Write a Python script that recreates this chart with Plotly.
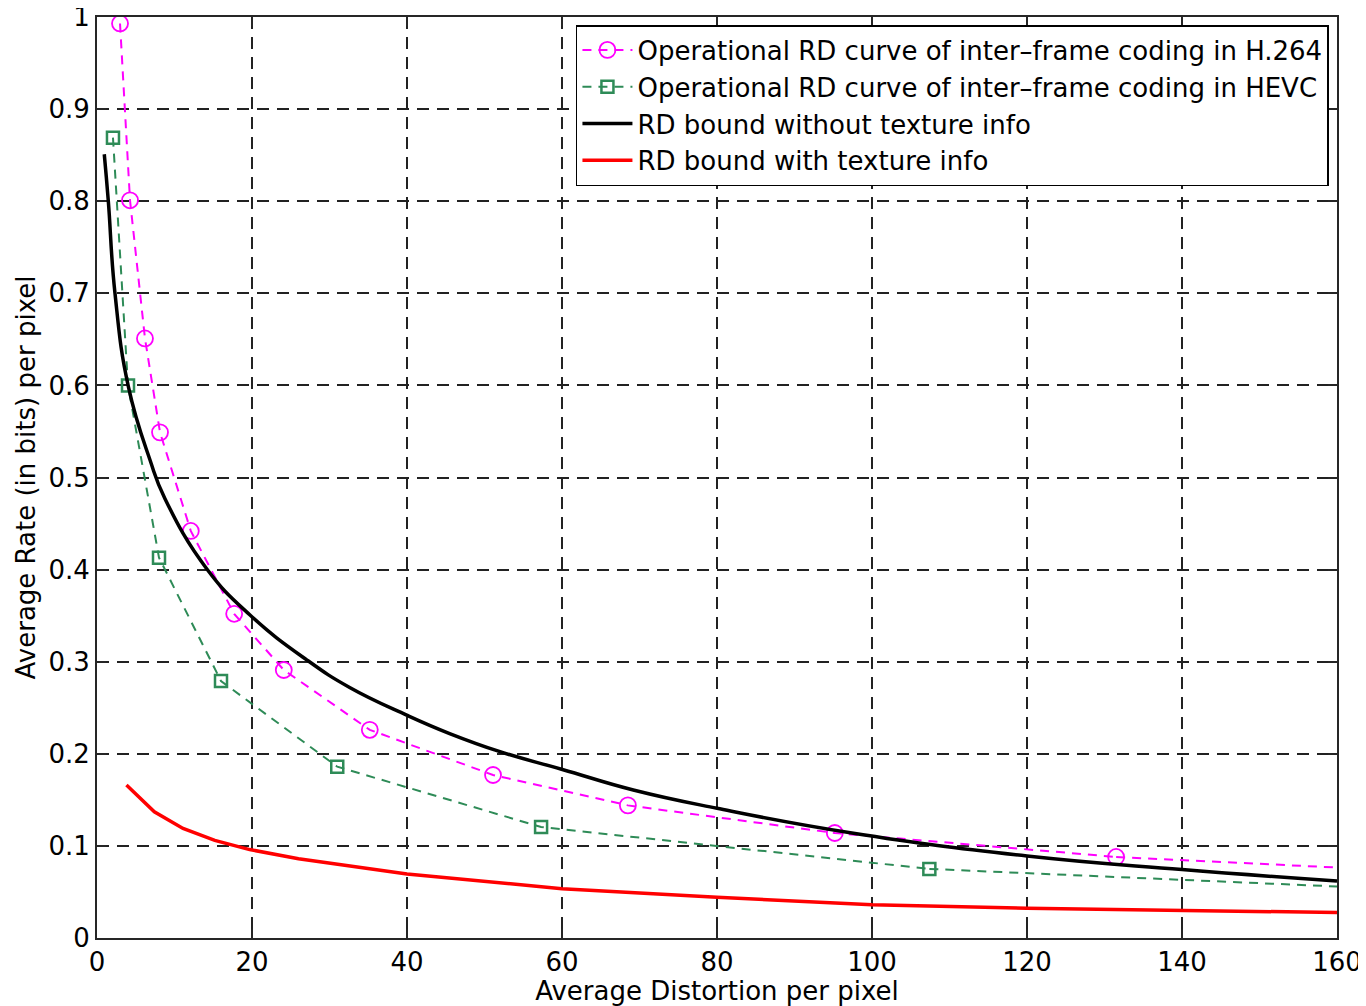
import plotly.graph_objects as go

# H.264 operational RD points
h264_x = [2.97, 4.26, 6.19, 8.13, 12.1, 17.7, 24.1, 35.2, 51.1, 68.5, 95.2, 131.5]
h264_y = [0.993, 0.801, 0.651, 0.549, 0.442, 0.352, 0.291, 0.226, 0.177, 0.144, 0.114, 0.088]
h264_tail_x = [131.5, 160]
h264_tail_y = [0.088, 0.0765]

# HEVC operational RD points
hevc_x = [2.06, 4.0, 8.0, 16.0, 31.0, 57.3, 107.4]
hevc_y = [0.869, 0.600, 0.413, 0.279, 0.186, 0.1205, 0.075]
hevc_tail_x = [107.4, 160]
hevc_tail_y = [0.075, 0.0559]

# RD bound without texture info
bound_x = [0.94, 1.46, 2.32, 4.04, 6.84, 8.77, 14.15, 19.74, 27.06, 32.6, 39.96, 45.5,
           52.0, 60.04, 69.2, 80, 97.2, 120, 140, 160]
bound_y = [0.851, 0.800, 0.700, 0.599, 0.519, 0.477, 0.401, 0.3507, 0.302, 0.272, 0.242, 0.222,
           0.2023, 0.183, 0.1607, 0.1408, 0.1143, 0.089, 0.0743, 0.0618]

# RD bound with texture info
tex_x = [3.8, 7.4, 11.1, 15.2, 19.7, 26.0, 40, 60, 80, 100, 120, 140, 160]
tex_y = [0.166, 0.137, 0.119, 0.106, 0.096, 0.086, 0.0695, 0.0535, 0.0442, 0.036, 0.0324, 0.030, 0.0276]

x_ticks = [0, 20, 40, 60, 80, 100, 120, 140, 160]
y_ticks = [0, 0.1, 0.2, 0.3, 0.4, 0.5, 0.6, 0.7, 0.8, 0.9, 1]
y_ticktext = ["0", "0.1", "0.2", "0.3", "0.4", "0.5", "0.6", "0.7", "0.8", "0.9", "1"]

FONT = "DejaVu Sans, Liberation Sans, Arial, sans-serif"
MAGENTA = "#ff00ff"
GREEN = "#2e8b57"

fig = go.Figure()

fig.add_trace(go.Scatter(
    x=h264_x, y=h264_y, mode="lines+markers",
    name="Operational RD curve of inter\u2013frame coding in H.264",
    line=dict(color=MAGENTA, width=2, dash="9px,7px"),
    marker=dict(symbol="circle-open", size=16, color=MAGENTA, line=dict(width=1.8, color=MAGENTA)),
))
fig.add_trace(go.Scatter(
    x=h264_tail_x, y=h264_tail_y, mode="lines", showlegend=False,
    line=dict(color=MAGENTA, width=2, dash="9px,7px"),
))
fig.add_trace(go.Scatter(
    x=hevc_x, y=hevc_y, mode="lines+markers",
    name="Operational RD curve of inter\u2013frame coding in HEVC",
    line=dict(color=GREEN, width=2, dash="9px,7px"),
    marker=dict(symbol="square-open", size=12, color=GREEN, line=dict(width=2.5, color=GREEN)),
))
fig.add_trace(go.Scatter(
    x=hevc_tail_x, y=hevc_tail_y, mode="lines", showlegend=False,
    line=dict(color=GREEN, width=2, dash="9px,7px"),
))
fig.add_trace(go.Scatter(
    x=bound_x, y=bound_y, mode="lines", line_shape="spline",
    name="RD bound without texture info",
    line=dict(color="black", width=3.5, smoothing=1.3),
))
fig.add_trace(go.Scatter(
    x=tex_x, y=tex_y, mode="lines",
    name="RD bound with texture info",
    line=dict(color="#ff0000", width=3.5),
))

axis_common = dict(
    showline=True, linecolor="#262626", linewidth=2, mirror="ticks",
    ticks="inside", ticklen=9, tickwidth=1.5, tickcolor="#262626",
    showgrid=True, gridcolor="#222222", gridwidth=1.5, griddash="12px,8px",
    zeroline=False, automargin=False, ticklabeloverflow="allow",
    tickfont=dict(family=FONT, size=26, color="black"),
)

fig.update_xaxes(
    range=[0, 160], tickvals=x_ticks, ticktext=[str(v) for v in x_ticks],
    title=dict(text="Average Distortion per pixel", font=dict(family=FONT, size=26, color="black"), standoff=0),
    **axis_common,
)
fig.update_yaxes(
    range=[0, 1], tickvals=y_ticks, ticktext=y_ticktext,
    title=dict(text="Average Rate (in bits) per pixel", font=dict(family=FONT, size=26, color="black"), standoff=5),
    **axis_common,
)

# the page body adds an 8px margin, so the figure is sized/margined to land on the reference layout
fig.update_layout(
    width=1358, height=998,
    margin=dict(l=89, r=29, t=9, b=68),
    paper_bgcolor="white", plot_bgcolor="white",
    font=dict(family=FONT, color="black"),
    legend=dict(
        x=0.9935, y=0.9913, xanchor="right", yanchor="top",
        bgcolor="white", bordercolor="black", borderwidth=1.5,
        font=dict(family=FONT, size=26, color="black"),
        tracegroupgap=0, itemwidth=50,
    ),
)

fig.write_html("out.html")
